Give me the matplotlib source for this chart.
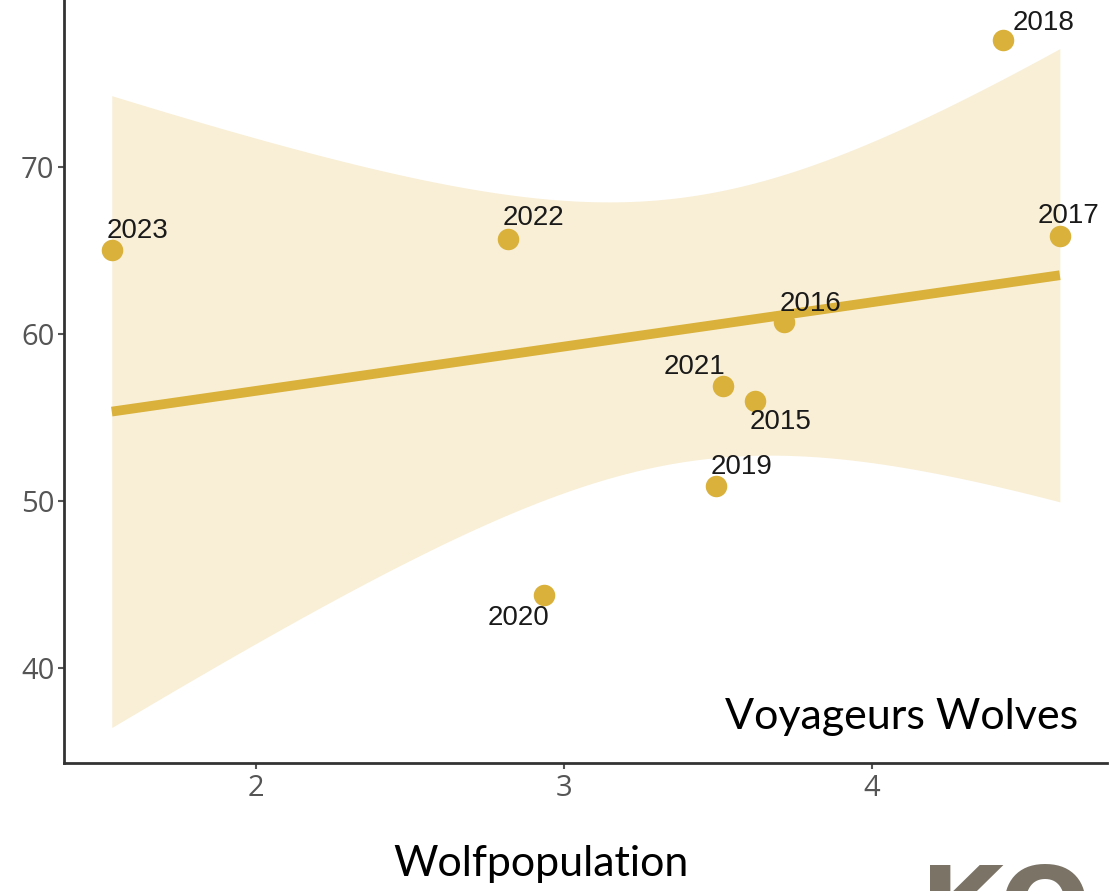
import numpy as np
import matplotlib.pyplot as plt

# data
years = ['2015', '2016', '2017', '2018', '2019', '2020', '2021', '2022', '2023']
wolves = [3.62, 3.714, 4.61, 4.425, 3.494, 2.935, 3.516, 2.818, 1.532]
values = [56.0, 60.7, 65.85, 77.6, 50.87, 44.36, 56.9, 65.67, 65.0]

# label offsets in points (dx, dy, ha, va)
label_pos = {
    '2015': (-4, -6, 'left', 'top'),
    '2016': (-3, 4, 'left', 'bottom'),
    '2017': (6, 5, 'center', 'bottom'),
    '2018': (7, 3, 'left', 'bottom'),
    '2019': (-4, 5, 'left', 'bottom'),
    '2020': (4, -7, 'right', 'top'),
    '2021': (2, 4, 'right', 'bottom'),
    '2022': (-4, 6, 'left', 'bottom'),
    '2023': (-4, 5, 'left', 'bottom'),
}

gold = '#d9b13b'
band = '#f9efd6'
grey = '#555555'


def lm_fit(x, y, xs):
    x = np.asarray(x)
    y = np.asarray(y)
    n = len(x)
    b, a = np.polyfit(x, y, 1)
    res = y - (a + b * x)
    s = np.sqrt((res ** 2).sum() / (n - 2))
    sxx = ((x - x.mean()) ** 2).sum()
    se = s * np.sqrt(1 / n + (xs - x.mean()) ** 2 / sxx)
    t = 2.365  # t(0.975, df=7)
    fit = a + b * xs
    return fit, fit - t * se, fit + t * se


fig = plt.figure(figsize=(11.15, 8.91), dpi=100)
ax = fig.add_axes([64 / 1115, 1 - 763 / 891, (1107 - 64) / 1115, 763 / 891])

xs = np.linspace(min(wolves), max(wolves), 200)
fit, lo, hi = lm_fit(wolves, values, xs)
ax.fill_between(xs, lo, hi, color=band, lw=0, zorder=1)
ax.plot(xs, fit, color=gold, lw=7, solid_capstyle='butt', zorder=2)
ax.scatter(wolves, values, s=240, color=gold, lw=0, zorder=3)

for yr, x, y in zip(years, wolves, values):
    dx, dy, ha, va = label_pos[yr]
    ax.annotate(yr, (x, y), xytext=(dx, dy), textcoords='offset points',
                ha=ha, va=va, fontsize=20, family='Liberation Sans',
                color='#1a1a1a', zorder=4)

ax.set_xlim(1.377, 4.763)
ax.set_ylim(34.31, 80.0)
ax.set_xticks([2, 3, 4])
ax.set_yticks([40, 50, 60, 70])
for side in ['top', 'right']:
    ax.spines[side].set_visible(False)
for side in ['left', 'bottom']:
    ax.spines[side].set_linewidth(2)
    ax.spines[side].set_color('#333333')
ax.tick_params(colors=grey, labelsize=21, length=4, width=1.5, pad=4)
ax.tick_params(axis='y', pad=3)
for lab in ax.get_xticklabels() + ax.get_yticklabels():
    lab.set_family('Open Sans')

ax.text(1014 / 1043, 0.045, 'Voyageurs Wolves',
        transform=ax.transAxes, ha='right', va='baseline', fontsize=31,
        family='Lato', color='black')

fig.text(541 / 1115, 1 - 864 / 891, 'Wolfpopulation', ha='center', va='center',
         fontsize=31, family='Lato', color='black')
fig.text(920 / 1115, 1 - 944 / 891, 'KO', ha='left', va='baseline',
         fontsize=78, family='DejaVu Sans', fontweight='bold', color='#7a7366')

fig.savefig('out.png', dpi=100)
